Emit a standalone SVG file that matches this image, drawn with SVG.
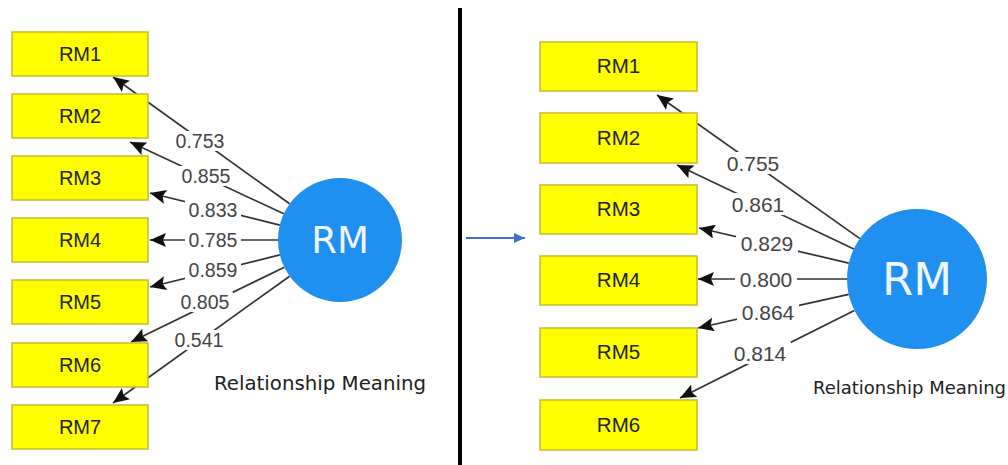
<svg xmlns="http://www.w3.org/2000/svg" width="1008" height="465" viewBox="0 0 1008 465">
<style>
.box{fill:#ffff00;stroke:#c9bb2a;stroke-width:1.5}
.bt{font-family:"Liberation Sans",Arial,sans-serif;font-size:20px;fill:#222;text-anchor:middle}
.bt2{font-family:"Liberation Sans",Arial,sans-serif;font-size:20.5px;fill:#222;text-anchor:middle}
.circ{fill:#1f8ff0}
.ct{font-family:"DejaVu Sans",Verdana,sans-serif;fill:#eef6ff;text-anchor:middle}
.cap{font-family:"DejaVu Sans",Verdana,sans-serif;fill:#222}
.ln{stroke:#333;stroke-width:1.7;fill:none;marker-end:url(#ah)}
.lb{font-family:"Liberation Sans",Arial,sans-serif;fill:#444;text-anchor:middle}
.bg{fill:#fff}
</style>
<defs>
<marker id="ah" markerUnits="userSpaceOnUse" markerWidth="18" markerHeight="14" refX="16" refY="7" orient="auto">
<path d="M0,0 L16,7 L0,14 L3,7 Z" fill="#111"/>
</marker>
<marker id="bah" markerUnits="userSpaceOnUse" markerWidth="12" markerHeight="10" refX="11" refY="5" orient="auto">
<path d="M0,0 L11,5 L0,10 Z" fill="#3f72c8"/>
</marker>
</defs>
<rect width="1008" height="465" fill="#fff"/>

<g id="connectors">
<line class="ln" x1="289.6" y1="203.8" x2="113" y2="77"/>
<line class="ln" x1="283.8" y1="213.8" x2="130" y2="142"/>
<line class="ln" x1="279.8" y1="225.1" x2="150" y2="193"/>
<line class="ln" x1="278" y1="240" x2="150" y2="240"/>
<line class="ln" x1="279.8" y1="254.9" x2="150" y2="287"/>
<line class="ln" x1="284.3" y1="267.2" x2="131" y2="342"/>
<line class="ln" x1="289.6" y1="276.2" x2="113" y2="403"/>

<line class="ln" x1="859.9" y1="238.6" x2="657" y2="95"/>
<line class="ln" x1="853.8" y1="249" x2="677" y2="165"/>
<line class="ln" x1="848.8" y1="263.1" x2="699" y2="228"/>
<line class="ln" x1="847" y1="279" x2="698" y2="279"/>
<line class="ln" x1="848.7" y1="294.3" x2="698" y2="328"/>
<line class="ln" x1="854.4" y1="310.4" x2="680" y2="398"/>

<line x1="466" y1="238" x2="525" y2="238" stroke="#3f72c8" stroke-width="2.2" marker-end="url(#bah)"/>
</g>

<g id="labels-left" class="lb" font-size="19.5">
<rect class="bg" x="172" y="131" width="56" height="20"/><text x="200" y="148">0.753</text>
<rect class="bg" x="178" y="166" width="56" height="20"/><text x="206" y="183">0.855</text>
<rect class="bg" x="185" y="200" width="56" height="20"/><text x="213" y="217">0.833</text>
<rect class="bg" x="185" y="230" width="56" height="20"/><text x="213" y="247">0.785</text>
<rect class="bg" x="185" y="260" width="56" height="20"/><text x="213" y="277">0.859</text>
<rect class="bg" x="177" y="292" width="56" height="20"/><text x="205" y="309">0.805</text>
<rect class="bg" x="171" y="330" width="56" height="20"/><text x="199" y="347">0.541</text>
</g>

<g id="labels-right" class="lb" font-size="21">
<rect class="bg" x="722" y="152" width="62" height="22"/><text x="753" y="171">0.755</text>
<rect class="bg" x="727" y="193" width="62" height="22"/><text x="758" y="212">0.861</text>
<rect class="bg" x="736" y="232" width="62" height="22"/><text x="767" y="251">0.829</text>
<rect class="bg" x="735" y="268" width="62" height="22"/><text x="766" y="287">0.800</text>
<rect class="bg" x="737" y="301" width="62" height="22"/><text x="768" y="320">0.864</text>
<rect class="bg" x="729" y="342" width="62" height="22"/><text x="760" y="361">0.814</text>
</g>

<g id="RM1-L"><rect class="box" x="12" y="32" width="136" height="44"/><text class="bt" x="80" y="61">RM1</text></g>
<g id="RM2-L"><rect class="box" x="12" y="94" width="136" height="44"/><text class="bt" x="80" y="123">RM2</text></g>
<g id="RM3-L"><rect class="box" x="12" y="156" width="136" height="44"/><text class="bt" x="80" y="185">RM3</text></g>
<g id="RM4-L"><rect class="box" x="12" y="218" width="136" height="44"/><text class="bt" x="80" y="247">RM4</text></g>
<g id="RM5-L"><rect class="box" x="12" y="280" width="136" height="44"/><text class="bt" x="80" y="309">RM5</text></g>
<g id="RM6-L"><rect class="box" x="12" y="343" width="136" height="44"/><text class="bt" x="80" y="372">RM6</text></g>
<g id="RM7-L"><rect class="box" x="12" y="405" width="136" height="44"/><text class="bt" x="80" y="434">RM7</text></g>

<g id="RM-L">
<circle class="circ" cx="340" cy="240" r="62"/>
<text class="ct" x="340" y="253" font-size="37">RM</text>
<text class="cap" x="214" y="390" font-size="19.5" textLength="212" lengthAdjust="spacingAndGlyphs">Relationship Meaning</text>
</g>

<g id="divider"><rect x="458" y="8" width="4" height="457" fill="#000"/></g>

<g id="RM1-R"><rect class="box" x="540" y="42" width="157" height="49"/><text class="bt2" x="618.5" y="73">RM1</text></g>
<g id="RM2-R"><rect class="box" x="540" y="113" width="157" height="50"/><text class="bt2" x="618.5" y="145">RM2</text></g>
<g id="RM3-R"><rect class="box" x="540" y="185" width="157" height="49"/><text class="bt2" x="618.5" y="216">RM3</text></g>
<g id="RM4-R"><rect class="box" x="540" y="256" width="157" height="49"/><text class="bt2" x="618.5" y="287">RM4</text></g>
<g id="RM5-R"><rect class="box" x="540" y="328" width="157" height="49"/><text class="bt2" x="618.5" y="359">RM5</text></g>
<g id="RM6-R"><rect class="box" x="540" y="400" width="157" height="50"/><text class="bt2" x="618.5" y="432">RM6</text></g>

<g id="RM-R">
<circle class="circ" cx="917" cy="279" r="70"/>
<text class="ct" x="917" y="295" font-size="45">RM</text>
<text class="cap" x="813" y="394" font-size="17.5" textLength="193" lengthAdjust="spacingAndGlyphs">Relationship Meaning</text>
</g>
</svg>
